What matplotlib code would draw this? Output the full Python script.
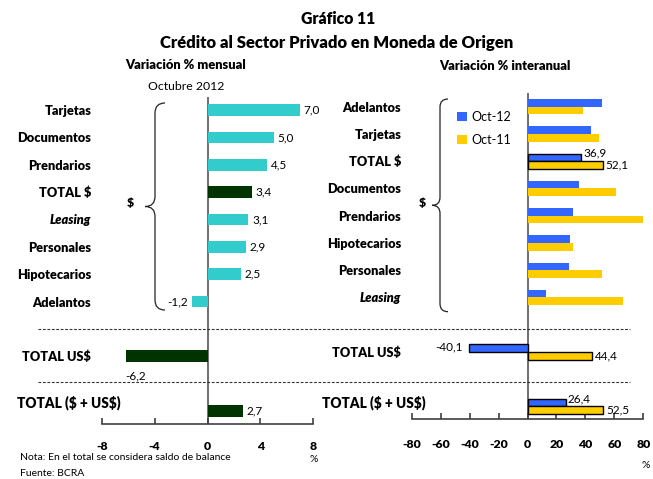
import matplotlib
matplotlib.use("Agg")
import matplotlib.pyplot as plt
from matplotlib.lines import Line2D
from matplotlib.patches import Patch, PathPatch
from matplotlib.path import Path

plt.rcParams['font.family'] = ['Lato', 'DejaVu Sans']
plt.rcParams['axes.unicode_minus'] = False

# Datos
cat_mensual = ["Tarjetas", "Documentos", "Prendarios", "TOTAL $", "Leasing",
               "Personales", "Hipotecarios", "Adelantos", "TOTAL US$", r"TOTAL (\$ + US\$)"]
var_mensual = [7.0, 5.0, 4.5, 3.4, 3.1, 2.9, 2.5, -1.2, -6.2, 2.7]

cat_interanual = ["Adelantos", "Tarjetas", "TOTAL $", "Documentos", "Prendarios",
                  "Hipotecarios", "Personales", "Leasing", "TOTAL US$", r"TOTAL (\$ + US\$)"]
oct12 = [51.2, 44.2, 36.9, 35.6, 31.7, 29.6, 28.9, 13.0, -40.1, 26.4]
oct11 = [38.4, 49.5, 52.1, 61.3, 80.0, 31.7, 51.2, 66.2, 44.4, 52.5]

filas = [0, 1, 2, 3, 4, 5, 6, 7, 9, 11]

CIAN = "#33CCCC"
VERDE = "#003300"
AZUL = "#3366FF"
AMARILLO = "#FFCC00"
GRIS = "#404040"

W, H = 653, 479


def fx(px):
    return px / W


def fy(py):
    return 1 - py / H


def coma(v):
    return f"{v:.1f}".replace(".", ",")


def llave(fig, x, y0, y1, w):
    """Dibuja una llave { en coordenadas de pixel"""
    ym = (y0 + y1) / 2
    pts = [(x + w, y0), (x, y0), (x, y0 + w),
           (x, ym - w), (x, ym), (x - w, ym),
           (x, ym), (x, ym + w),
           (x, y1 - w), (x, y1), (x + w, y1)]
    codes = [Path.MOVETO, Path.CURVE3, Path.CURVE3,
             Path.LINETO, Path.CURVE3, Path.CURVE3,
             Path.CURVE3, Path.CURVE3,
             Path.LINETO, Path.CURVE3, Path.CURVE3]
    pts = [(fx(a), fy(b)) for a, b in pts]
    fig.patches.append(PathPatch(Path(pts, codes), fill=False, lw=0.9,
                                 edgecolor="#222222", transform=fig.transFigure))


def estilo_eje(ax, pad):
    for s in ["left", "right", "top"]:
        ax.spines[s].set_visible(False)
    ax.spines["bottom"].set_color(GRIS)
    ax.spines["bottom"].set_linewidth(1.2)
    ax.axvline(0, color="#555555", lw=1.2, zorder=1)
    ax.tick_params(axis="x", direction="in", length=4, width=1.2, color=GRIS,
                   pad=pad, labelsize=8.8)
    ax.tick_params(axis="y", length=0, pad=7.5, labelsize=9.2)
    for t in ax.get_xticklabels():
        t.set_fontweight("heavy")


fig = plt.figure(figsize=(W / 100, H / 100), dpi=100)

# ---- Panel izquierdo: variacion mensual
ax1 = fig.add_axes([fx(101.7), fy(424), fx(313.3) - fx(101.7), fy(96.7) - fy(424)])
colores = [VERDE if c.startswith("TOTAL") else CIAN for c in cat_mensual]
ax1.barh(filas, var_mensual, height=0.43, color=colores, zorder=2)
ax1.set_xlim(-8, 8)
ax1.set_ylim(11.48, -0.49)
ax1.set_xticks([-8, -4, 0, 4, 8])
ax1.set_yticks(filas[:9])
ax1.set_yticklabels(cat_mensual[:9], fontweight="heavy")
estilo_eje(ax1, 12.5)
ax1.get_yticklabels()[4].set_fontstyle("italic")

for f, v in zip(filas, var_mensual):
    if f == 9:
        ax1.annotate(coma(v), (v, f), xytext=(0, -10), textcoords="offset points",
                     ha="left", va="top", fontsize=8.5)
    elif v < 0:
        ax1.annotate(coma(v), (v, f), xytext=(-3, 0), textcoords="offset points",
                     ha="right", va="center", fontsize=8.5)
    else:
        ax1.annotate(coma(v), (v, f), xytext=(2.5, 0), textcoords="offset points",
                     ha="left", va="center", fontsize=8.5)

# ---- Panel derecho: variacion interanual
ax2 = fig.add_axes([fx(411.7), fy(419.3), fx(643.3) - fx(411.7), fy(93) - fy(419.3)])
bh = 0.28
bordes = ["black" if c.startswith("TOTAL") else "none" for c in cat_interanual]
ax2.barh([f - bh / 2 for f in filas], oct12, height=bh, color=AZUL,
         edgecolor=bordes, linewidth=1.0, zorder=2)
ax2.barh([f + bh / 2 for f in filas], oct11, height=bh, color=AMARILLO,
         edgecolor=bordes, linewidth=1.0, zorder=2)
ax2.set_xlim(-80, 80)
ax2.set_ylim(11.47, -0.5)
ax2.set_xticks(range(-80, 81, 20))
ax2.set_yticks(filas[:9])
ax2.set_yticklabels(cat_interanual[:9], fontweight="heavy")
estilo_eje(ax2, 14.5)
ax2.get_yticklabels()[7].set_fontstyle("italic")

for f, a, b, c in zip(filas, oct12, oct11, cat_interanual):
    if not c.startswith("TOTAL"):
        continue
    if a < 0:
        ax2.annotate(coma(a), (a, f - bh / 2), xytext=(-5, 1), textcoords="offset points",
                     ha="right", va="center", fontsize=8.5)
    else:
        ax2.annotate(coma(a), (a, f - bh / 2), xytext=(1.5, 3), textcoords="offset points",
                     ha="left", va="center", fontsize=8.5)
    ax2.annotate(coma(b), (b, f + bh / 2), xytext=(2, 0), textcoords="offset points",
                 ha="left", va="center", fontsize=8.5)

leyenda = [Patch(facecolor=AZUL, label="Oct-12"), Patch(facecolor=AMARILLO, label="Oct-11")]
fig.legend(handles=leyenda, loc="upper left", bbox_to_anchor=(fx(446), fy(100)),
           frameon=False, fontsize=9, handlelength=0.75, handleheight=0.75,
           handletextpad=0.4, labelspacing=0.85)

# Textos sueltos
fig.text(fx(120.7), fy(403), cat_mensual[9], ha="right", va="center",
         fontsize=9.8, fontweight="heavy")
fig.text(fx(425.7), fy(403), cat_interanual[9], ha="right", va="center",
         fontsize=9.8, fontweight="heavy")
fig.text(fx(338), fy(19), "Gráfico 11", ha="center", va="center",
         fontsize=11.3, fontweight="heavy")
fig.text(fx(337), fy(43), "Crédito al Sector Privado en Moneda de Origen", ha="center",
         va="center", fontsize=12, fontweight="heavy")
fig.text(fx(186), fy(65), "Variación % mensual", ha="center", va="center",
         fontsize=9.3, fontweight="heavy")
fig.text(fx(504.5), fy(66), "Variación % interanual", ha="center", va="center",
         fontsize=9.3, fontweight="heavy")
fig.text(fx(186), fy(87), "Octubre 2012", ha="center", va="center", fontsize=8.8)
fig.text(fx(130), fy(202), "$", ha="center", va="center", fontsize=8.8, fontweight="heavy")
fig.text(fx(422.5), fy(203), "$", ha="center", va="center", fontsize=8.8, fontweight="heavy")
fig.text(fx(20), fy(458), "Nota: En el total se considera saldo de balance",
         ha="left", va="center", fontsize=7.5)
fig.text(fx(20), fy(474), "Fuente: BCRA", ha="left", va="center", fontsize=7.5)
fig.text(fx(314), fy(459), "%", ha="center", va="center", fontsize=7.5)
fig.text(fx(646), fy(465), "%", ha="center", va="center", fontsize=7.5)

# Llaves
llave(fig, 155, 103, 310, 10)
llave(fig, 440, 99, 311.7, 8)

# Lineas punteadas separadoras
for yy in [328.5, 381.5]:
    fig.add_artist(Line2D([fx(38), fx(630)], [fy(yy), fy(yy)], transform=fig.transFigure,
                          color="#333333", lw=0.8, linestyle=(0, (2.5, 1.5))))

fig.savefig("out.png", dpi=100)
